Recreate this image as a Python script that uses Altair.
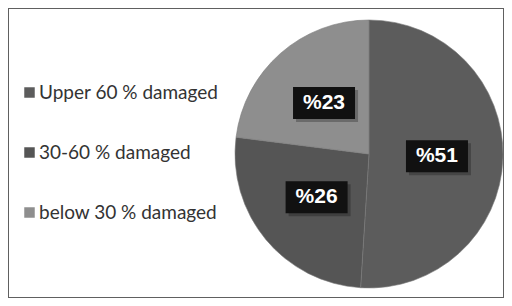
import altair as alt
import pandas as pd

categories = ["Upper 60 % damaged", "30-60 % damaged", "below 30 % damaged"]
values = [51, 26, 23]
labels = ["%51", "%26", "%23"]
colors = ["#5c5c5c", "#555555", "#8e8e8e"]
order = [1, 2, 3]

df = pd.DataFrame({"cat": categories, "value": values, "label": labels, "ord": order})

CX, CY, R, LR = 361, 146, 134, 68
BW, BH = 31, 16

color = alt.Color("cat:N", scale=alt.Scale(domain=categories, range=colors),
                  sort=categories,
                  legend=alt.Legend(title=None, orient="none", legendX=12, legendY=75,
                                    symbolType="square", symbolSize=110, symbolStrokeWidth=0,
                                    labelFont="Lato", labelFontSize=19, labelColor="#333333",
                                    rowPadding=40, padding=0, labelLimit=300, labelOffset=0))

pie = alt.Chart(df).mark_arc(outerRadius=R, stroke="#7a7a7a", strokeWidth=0.6).encode(
    theta=alt.Theta("value:Q", stack=True),
    color=color,
    order=alt.Order("ord:Q"),
    x=alt.value(CX), y=alt.value(CY),
)

pos = alt.Chart(df).transform_window(
    cum="sum(value)", sort=[alt.SortField("ord")]
).transform_joinaggregate(total="sum(value)").transform_calculate(
    ang=f"2*PI*(datum.cum - datum.value/2)/datum.total"
).transform_calculate(
    lx=f"{CX} + {LR}*sin(datum.ang)",
    ly=f"{CY} - {LR}*cos(datum.ang)",
)

shadow = pos.transform_calculate(
    x1=f"datum.lx - {BW} + 3", x2=f"datum.lx + {BW} + 3",
    y1=f"datum.ly - {BH} + 3", y2=f"datum.ly + {BH} + 3",
).mark_rect(color="#000000", opacity=0.25).encode(
    x=alt.X("x1:Q", scale=None), x2="x2:Q",
    y=alt.Y("y1:Q", scale=None), y2="y2:Q",
)

box = pos.transform_calculate(
    x1=f"datum.lx - {BW}", x2=f"datum.lx + {BW}",
    y1=f"datum.ly - {BH}", y2=f"datum.ly + {BH}",
).mark_rect(color="#111111").encode(
    x=alt.X("x1:Q", scale=None), x2="x2:Q",
    y=alt.Y("y1:Q", scale=None), y2="y2:Q",
)

txt = pos.mark_text(font="Liberation Sans", fontSize=21, fontWeight="bold",
                    color="white", align="center", baseline="middle").encode(
    x=alt.X("lx:Q", scale=None), y=alt.Y("ly:Q", scale=None), text="label:N",
)

chart = alt.layer(pie, shadow, box, txt).properties(
    width=496, height=290, padding=0, autosize=alt.AutoSizeParams(type="none"),
    background="white",
).configure_view(stroke="#606060", strokeWidth=2)

chart.save("out.html", embed_options={"renderer": "svg", "actions": False})
